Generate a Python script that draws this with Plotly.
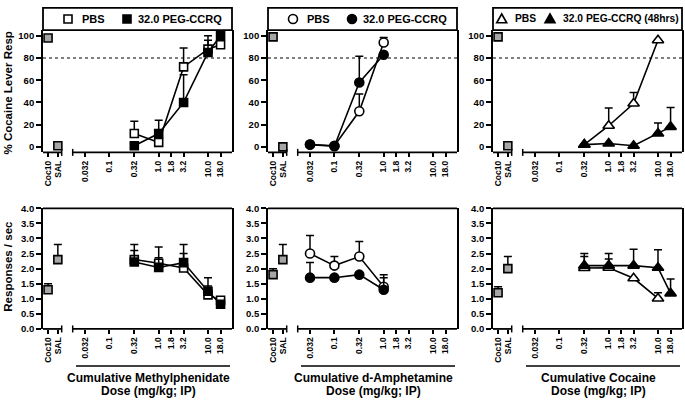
import plotly.graph_objects as go

# ---------------- data ----------------
DOSE_TICKS = [0.032, 0.1, 0.32, 1.0, 1.8, 3.2, 10.0, 18.0]
DOSE_LABELS = ["0.032", "0.1", "0.32", "1.0", "1.8", "3.2", "10.0", "18.0"]
CTRL_LABELS = ["Coc10", "SAL"]
CTRL_POS = [0.0057, 0.009]   # where the control points sit on the dose axis

# Methylphenidate
mph_doses = [0.32, 1.0, 3.2, 10.0, 18.0]
mph_pct_pbs = [12, 4, 72, 88, 92]
mph_pct_pbs_err = [11, 0, 17, 8, 0]
mph_pct_peg = [1, 12, 40, 85, 100]
mph_pct_peg_err = [0, 12, 25, 15, 0]
mph_ctrl_pct = [98, 1]
mph_rate_pbs = [2.3, 2.18, 2.02, 1.13, 0.95]
mph_rate_pbs_err = [0.5, 0.54, 0.48, 0.29, 0]
mph_rate_peg = [2.22, 2.04, 2.2, 1.25, 0.82]
mph_rate_peg_err = [0.38, 0.32, 0.6, 0.45, 0]
mph_ctrl_rate = [1.3, 2.3]
mph_ctrl_rate_err = [0.2, 0.5]

# d-Amphetamine
amp_doses = [0.032, 0.1, 0.32, 1.0]
amp_pct_pbs = [2, 1, 32, 94]
amp_pct_pbs_err = [0, 0, 15.5, 4.5]
amp_pct_peg = [2, 0.5, 58, 83]
amp_pct_peg_err = [0, 0, 23.5, 0]
amp_ctrl_pct = [99, 0]
amp_rate_pbs = [2.5, 2.1, 2.4, 1.4]
amp_rate_pbs_err = [0.6, 0.3, 0.5, 0.4]
amp_rate_peg = [1.7, 1.7, 1.8, 1.3]
amp_rate_peg_err = [0.5, 0, 0, 0.4]
amp_ctrl_rate = [1.8, 2.3]
amp_ctrl_rate_err = [0.2, 0.5]

# Cocaine
coc_pbs_doses = [0.32, 1.0, 3.2, 10.0]
coc_peg_doses = [0.32, 1.0, 3.2, 10.0, 18.0]
coc_pct_pbs = [2, 19, 39, 96]
coc_pct_pbs_err = [0, 16, 10, 0]
coc_pct_peg = [2, 3, 1, 12, 18]
coc_pct_peg_err = [0, 0, 0, 9.5, 17.5]
coc_ctrl_pct = [99, 1]
coc_rate_pbs = [2.02, 2.03, 1.68, 1.01]
coc_rate_pbs_err = [0.38, 0.29, 0, 0.19]
coc_rate_peg = [2.1, 2.1, 2.1, 2.03, 1.18]
coc_rate_peg_err = [0.4, 0.4, 0.54, 0.6, 0.48]
coc_ctrl_rate = [1.2, 2.0]
coc_ctrl_rate_err = [0.2, 0.4]

PANELS = [
    dict(drug="Methylphenidate", symbol="square", msize=8,
         pbs_x=mph_doses, peg_x=mph_doses,
         pct=(mph_pct_pbs, mph_pct_pbs_err, mph_pct_peg, mph_pct_peg_err, mph_ctrl_pct),
         rate=(mph_rate_pbs, mph_rate_pbs_err, mph_rate_peg, mph_rate_peg_err,
               mph_ctrl_rate, mph_ctrl_rate_err),
         leg=("PBS", "32.0 PEG-CCRQ"), leg_pos=(25, 37, 84, 93), leg_font=11),
    dict(drug="d-Amphetamine", symbol="circle", msize=9,
         pbs_x=amp_doses, peg_x=amp_doses,
         pct=(amp_pct_pbs, amp_pct_pbs_err, amp_pct_peg, amp_pct_peg_err, amp_ctrl_pct),
         rate=(amp_rate_pbs, amp_rate_pbs_err, amp_rate_peg, amp_rate_peg_err,
               amp_ctrl_rate, amp_ctrl_rate_err),
         leg=("PBS", "32.0 PEG-CCRQ"), leg_pos=(25, 37, 84, 93), leg_font=11),
    dict(drug="Cocaine", symbol="triangle-up", msize=10,
         pbs_x=coc_pbs_doses, peg_x=coc_peg_doses,
         pct=(coc_pct_pbs, coc_pct_pbs_err, coc_pct_peg, coc_pct_peg_err, coc_ctrl_pct),
         rate=(coc_rate_pbs, coc_rate_pbs_err, coc_rate_peg, coc_rate_peg_err,
               coc_ctrl_rate, coc_ctrl_rate_err),
         leg=("PBS", "32.0 PEG-CCRQ (48hrs)"), leg_pos=(8.7, 20, 57, 68), leg_font=10.3),
]

# ---------------- layout geometry (pixels) ----------------
W, H = 685, 403
FONT = "Liberation Sans, Arial, sans-serif"
PANEL_LEFT = [43, 268, 493]
PANEL_W = 189
TOP_ROW = (24.7, 150.5)      # pixel top, bottom
BOT_ROW = (208, 332)
LEG_TOP = 2
XRANGE = [-2.347, 1.487]
LW = 1.8

fig = go.Figure()


def err(arr):
    return dict(type="data", symmetric=False, array=arr, arrayminus=[0] * len(arr),
                color="black", thickness=1.5, width=4)


def add_series(ax, p, pbs, pbs_e, peg, peg_e, ctrl, ctrl_e):
    xa, ya = "x%d" % ax if ax > 1 else "x", "y%d" % ax if ax > 1 else "y"
    fig.add_trace(go.Scatter(
        x=CTRL_POS, y=ctrl, mode="markers", xaxis=xa, yaxis=ya, showlegend=False,
        marker=dict(symbol="square", size=8, color="#a6a6a6", line=dict(color="black", width=1.6)),
        error_y=err(ctrl_e) if ctrl_e else None))
    fig.add_trace(go.Scatter(
        x=p["pbs_x"], y=pbs, mode="lines+markers", xaxis=xa, yaxis=ya, showlegend=False,
        line=dict(color="black", width=1.6),
        marker=dict(symbol=p["symbol"], size=p["msize"], color="white",
                    line=dict(color="black", width=1.6)),
        error_y=err(pbs_e)))
    fig.add_trace(go.Scatter(
        x=p["peg_x"], y=peg, mode="lines+markers", xaxis=xa, yaxis=ya, showlegend=False,
        line=dict(color="black", width=1.6),
        marker=dict(symbol=p["symbol"], size=p["msize"], color="black",
                    line=dict(color="black", width=1.6)),
        error_y=err(peg_e)))


shapes, annotations = [], []
layout_axes = {}

for pi, p in enumerate(PANELS):
    left = PANEL_LEFT[pi]
    xdom = [left / W, (left + PANEL_W) / W]
    for row in range(2):
        ax = pi + 1 + 3 * row
        top_px, bot_px = TOP_ROW if row == 0 else BOT_ROW
        ydom = [1 - bot_px / H, 1 - top_px / H]
        xname = "xaxis%d" % ax if ax > 1 else "xaxis"
        yname = "yaxis%d" % ax if ax > 1 else "yaxis"
        xs = "x%d" % ax if ax > 1 else "x"
        ys = "y%d" % ax if ax > 1 else "y"
        layout_axes[xname] = dict(
            type="log", range=XRANGE, domain=xdom, anchor=ys,
            tickvals=CTRL_POS + DOSE_TICKS, ticktext=CTRL_LABELS + DOSE_LABELS,
            tickangle=-90, ticks="outside", ticklen=4, tickwidth=1.5, tickcolor="black",
            showline=False, showgrid=False, zeroline=False,
            tickfont=dict(family=FONT, size=8.5, color="black", weight="bold"))
        if row == 0:
            yr, tv = [-5, 105.2], [0, 20, 40, 60, 80, 100]
            tt = [str(v) for v in tv]
        else:
            yr, tv = [0, 4], [0, 0.5, 1, 1.5, 2, 2.5, 3, 3.5, 4]
            tt = ["%.1f" % v for v in tv]
        layout_axes[yname] = dict(
            range=yr, domain=ydom, anchor=xs, tickvals=tv, ticktext=tt,
            ticks="outside", ticklen=5, tickwidth=1.5, tickcolor="black",
            showline=True, mirror=True, linewidth=LW, linecolor="black",
            showgrid=False, zeroline=False,
            tickfont=dict(family=FONT, size=9.5, color="black", weight="bold"))

        xd, yd = xs + " domain", ys + " domain"
        # broken x axis
        shapes.append(dict(type="line", xref=xd, yref=yd, x0=0, x1=18.7 / PANEL_W, y0=0, y1=0,
                           line=dict(color="black", width=LW)))
        shapes.append(dict(type="line", xref=xd, yref=yd, x0=29.7 / PANEL_W, x1=1, y0=0, y1=0,
                           line=dict(color="black", width=LW)))
        for bx in (18.7 / PANEL_W, 29.7 / PANEL_W):
            shapes.append(dict(type="line", xref=xd, yref=yd, xsizemode="scaled",
                               ysizemode="pixel", yanchor=0, x0=bx, x1=bx, y0=-3.5, y1=3.5,
                               line=dict(color="black", width=1.5)))

        if row == 0:
            pbs, pbs_e, peg, peg_e, ctrl = p["pct"]
            add_series(ax, p, pbs, pbs_e, peg, peg_e, ctrl, None)
            span = bot_px - top_px
            leg_top = 1 + (top_px - LEG_TOP) / span
            leg_mid = 1 + (top_px - (LEG_TOP + top_px) / 2) / span
            # 80% criterion line
            shapes.append(dict(type="line", xref=xd, yref=ys, x0=0, x1=1, y0=80, y1=80,
                               line=dict(color="black", width=1.2, dash="dot")))
            # legend box
            shapes.append(dict(type="rect", xref=xd, yref=yd, x0=0, x1=1, y0=1, y1=leg_top,
                               line=dict(color="black", width=LW)))
            m1, t1, m2, t2 = p["leg_pos"]
            for mx, fill in ((m1, "white"), (m2, "black")):
                common = dict(xref=xd, yref=yd, xsizemode="pixel", ysizemode="pixel",
                              xanchor=mx / PANEL_W, yanchor=leg_mid,
                              line=dict(color="black", width=1.6), fillcolor=fill)
                if p["symbol"] == "square":
                    shapes.append(dict(type="rect", x0=-4, x1=4, y0=-4, y1=4, **common))
                elif p["symbol"] == "circle":
                    shapes.append(dict(type="circle", x0=-4.5, x1=4.5, y0=-4.5, y1=4.5, **common))
                else:
                    shapes.append(dict(type="path", path="M -5,-3.8 L 5,-3.8 L 0,5 Z", **common))
            for tx, txt in ((t1, p["leg"][0]), (t2, p["leg"][1])):
                annotations.append(dict(xref=xd, yref=yd, x=tx / PANEL_W, y=leg_mid,
                                        text=txt, showarrow=False, xanchor="left", yanchor="middle",
                                        font=dict(family=FONT, size=p["leg_font"], color="black",
                                                  weight="bold")))
        else:
            pbs, pbs_e, peg, peg_e, ctrl, ctrl_e = p["rate"]
            add_series(ax, p, pbs, pbs_e, peg, peg_e, ctrl, ctrl_e)
            # top frame line
            shapes.append(dict(type="line", xref=xd, yref=yd, x0=0, x1=1, y0=1, y1=1,
                               line=dict(color="black", width=LW)))
            # x title with rule above
            shapes.append(dict(type="line", xref=xd, yref="paper", x0=33 / PANEL_W, x1=187 / PANEL_W,
                               y0=1 - 370 / H, y1=1 - 370 / H, line=dict(color="black", width=1.5)))
            for ty, txt in ((382, "Cumulative " + p["drug"]), (395.5, "Dose (mg/kg; IP)")):
                annotations.append(dict(xref=xd, yref="paper", x=105 / PANEL_W, y=1 - ty / H,
                                        text=txt, showarrow=False, xanchor="center", yanchor="middle",
                                        font=dict(family=FONT, size=12, color="black", weight="bold")))

annotations.append(dict(xref="paper", yref="paper", x=8 / W, y=1 - 90 / H, text="% Cocaine Lever Resp",
                        textangle=-90, showarrow=False, xanchor="center", yanchor="middle",
                        font=dict(family=FONT, size=11.5, color="black", weight="bold")))
annotations.append(dict(xref="paper", yref="paper", x=8 / W, y=1 - 268 / H, text="Responses / sec",
                        textangle=-90, showarrow=False, xanchor="center", yanchor="middle",
                        font=dict(family=FONT, size=11.5, color="black", weight="bold")))

fig.update_layout(width=W, height=H, margin=dict(l=0, r=0, t=0, b=0),
                  paper_bgcolor="white", plot_bgcolor="white", showlegend=False,
                  shapes=shapes, annotations=annotations, **layout_axes)

fig.write_html("out.html", config={"displayModeBar": False},
               post_script="document.body.style.margin='0';document.body.style.padding='0';")
